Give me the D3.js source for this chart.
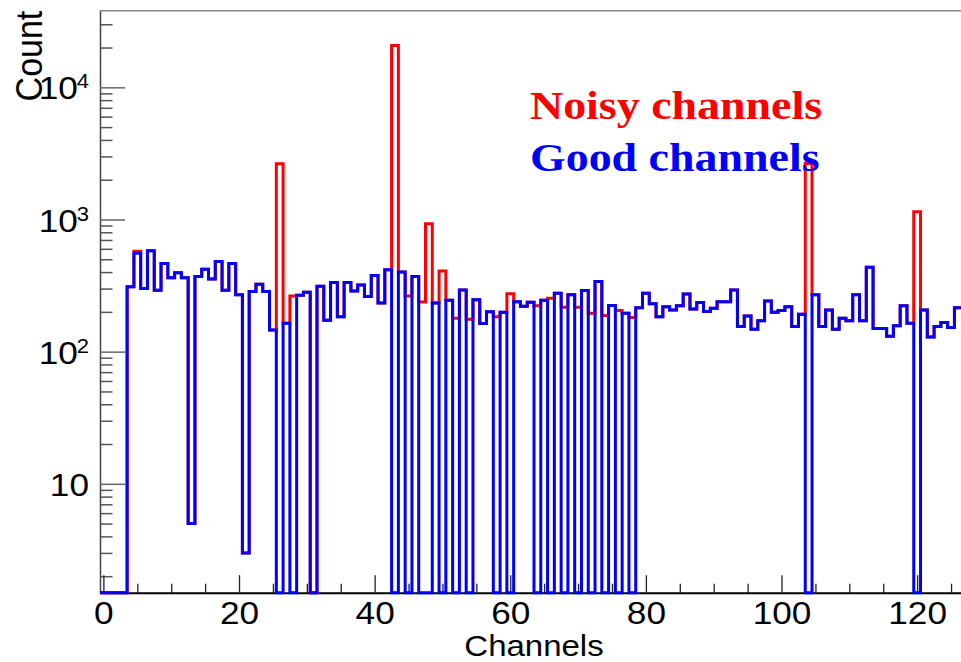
<!DOCTYPE html>
<html>
<head>
<meta charset="utf-8">
<script src="https://cdn.jsdelivr.net/npm/d3@7"></script>
<style>
  body { margin: 0; background: #fff; }
</style>
</head>
<body>
<div id="plot-container"></div>
<script>
// Bin contents per channel
const channels = d3.range(0, 127);

// good channels only (noisy ones removed -> 0)
const goodCounts = [
  0, 0, 0, 0, 310, 556, 300, 580, 292, 465,
  362, 395, 362, 5, 370, 421, 355, 480, 291, 465,
  269, 3, 285, 324, 285, 146, 0, 164, 0, 267,
  282, 0, 312, 173, 333, 184, 333, 288, 320, 261,
  377, 233, 416, 0, 401, 0, 370, 0, 0, 233,
  0, 245, 0, 293, 0, 247, 163, 200, 0, 199,
  0, 239, 221, 236, 0, 245, 0, 277, 0, 270,
  0, 290, 0, 339, 0, 223, 0, 195, 0, 215,
  277, 230, 184, 219, 207, 222, 273, 210, 235, 201,
  213, 239, 239, 293, 155, 186, 148, 171, 242, 199,
  205, 219, 155, 192, 0, 270, 155, 207, 148, 179,
  171, 270, 171, 436, 150, 150, 131, 157, 222, 164,
  0, 207, 129, 155, 166, 152, 215
];

// all channels, noisy ones included
const allCounts = [
  0, 0, 0, 0, 310, 575, 300, 580, 292, 465,
  362, 395, 362, 5, 370, 421, 355, 480, 291, 465,
  269, 3, 285, 324, 285, 146, 2640, 164, 264, 267,
  282, 0, 312, 173, 333, 184, 333, 288, 320, 261,
  377, 233, 416, 20700, 401, 264, 370, 237, 927, 233,
  408, 245, 179, 293, 176, 247, 163, 200, 184, 199,
  274, 239, 221, 236, 222, 245, 254, 277, 217, 270,
  217, 290, 195, 339, 188, 223, 205, 195, 181, 215,
  277, 230, 184, 219, 207, 222, 273, 210, 235, 201,
  213, 239, 239, 293, 155, 186, 148, 171, 242, 199,
  205, 219, 155, 192, 2650, 270, 155, 207, 148, 179,
  171, 270, 171, 436, 150, 150, 131, 157, 222, 164,
  1143, 207, 129, 155, 166, 152, 215
];

const xTicks = [0, 20, 40, 60, 80, 100, 120];
const yTicks = [10, 100, 1000, 10000];
const legendLabels = ["Noisy channels", "Good channels"];
const legendColors = ["#ff0000", "#0000ff"];

// Canvas and frame
const W = 961, H = 662;
const margin = { top: 10.7, left: 100, bottom: 69.3 };
const plotW = 868;
const plotH = H - margin.top - margin.bottom;
const yMin = 1.5, yMax = 38000;
const stretch = 1.1;
const sans = "'Liberation Sans', Arial, sans-serif";
const serif = "'Liberation Serif', 'Times New Roman', serif";

const svg = d3.select("#plot-container")
    .append("svg")
    .attr("width", W)
    .attr("height", H)
    .style("font-family", sans);

const x = d3.scaleLinear()
    .domain([-0.5, 127.5])
    .range([margin.left, margin.left + plotW]);

const y = d3.scaleLog()
    .domain([yMin, yMax])
    .range([margin.top + plotH, margin.top]);

// top frame line
svg.append("line")
    .attr("x1", margin.left).attr("x2", margin.left + plotW)
    .attr("y1", margin.top).attr("y2", margin.top)
    .attr("stroke", "#888").attr("stroke-width", 1.5);

// y axis: minor ticks
const yMinor = [];
[1, 10, 100, 1000, 10000].forEach(d => {
    for (let k = 2; k <= 9; k++) {
        if (k * d > yMin && k * d < yMax) yMinor.push(k * d);
    }
});

const yAxisMinor = svg.append("g")
    .attr("transform", `translate(${margin.left},0)`)
    .call(d3.axisLeft(y).tickValues(yMinor).tickSize(-12.5).tickFormat(() => ""));
yAxisMinor.select(".domain").remove();
yAxisMinor.selectAll("line").attr("stroke", "#555").attr("stroke-width", 1.5);

const yAxis = svg.append("g")
    .attr("transform", `translate(${margin.left},0)`)
    .call(d3.axisLeft(y).tickValues(yTicks).tickSize(-25).tickSizeOuter(0).tickFormat(() => ""));
yAxis.select(".domain").attr("stroke", "#444").attr("stroke-width", 1.5);
yAxis.selectAll("line").attr("stroke", "#666").attr("stroke-width", 1.5);
yAxis.selectAll(".tick text").remove();
yAxis.selectAll(".tick").each(function(d) {
    const e = Math.round(Math.log10(d));
    const t = d3.select(this).append("text")
        .attr("text-anchor", "end")
        .attr("fill", "#000")
        .attr("font-size", 32)
        .attr("dy", "0.36em")
        .attr("transform", `translate(-11,0) scale(${stretch},1)`);
    t.append("tspan").text("10");
    if (e > 1) t.append("tspan").attr("dy", "-0.55em").attr("dx", "-0.05em").attr("font-size", 20).text(e);
});

// x axis
const xAxisMinor = svg.append("g")
    .attr("transform", `translate(0,${margin.top + plotH})`)
    .call(d3.axisBottom(x).tickValues(d3.range(5, 128, 5).filter(v => v % 20 !== 0)).tickSize(-9).tickFormat(() => ""));
xAxisMinor.select(".domain").remove();
xAxisMinor.selectAll("line").attr("stroke", "#222").attr("stroke-width", 1.3);

const xAxis = svg.append("g")
    .attr("transform", `translate(0,${margin.top + plotH})`)
    .call(d3.axisBottom(x).tickValues(xTicks).tickSize(-17.5).tickSizeOuter(0).tickPadding(9));
xAxis.select(".domain").attr("stroke", "#000").attr("stroke-width", 2);
xAxis.selectAll("line").attr("stroke", "#222").attr("stroke-width", 1.3);
xAxis.selectAll("text")
    .attr("font-size", 32)
    .attr("fill", "#000")
    .style("font-family", sans)
    .attr("transform", `scale(${stretch},1)`);

// axis titles
svg.append("text")
    .attr("transform", `translate(534,656) scale(${stretch},1)`)
    .attr("text-anchor", "middle")
    .attr("font-size", 30)
    .text("Channels");

svg.append("text")
    .attr("transform", `translate(42,${margin.top}) rotate(-90) scale(1,${stretch})`)
    .attr("text-anchor", "end")
    .attr("font-size", 34)
    .text("Count");

// histograms as step outlines
function stepPoints(counts) {
    const pts = [];
    counts.forEach((c, i) => {
        pts.push([channels[i] - 0.5, c]);
        pts.push([channels[i] + 0.5, c]);
    });
    return pts;
}

const line = d3.line()
    .x(d => x(d[0]))
    .y(d => y(Math.max(d[1], yMin)));

svg.append("path")
    .attr("d", line(stepPoints(allCounts)))
    .attr("fill", "none")
    .attr("stroke", legendColors[0])
    .attr("stroke-width", 3)
    .attr("stroke-linejoin", "miter");

svg.append("path")
    .attr("d", line(stepPoints(goodCounts)))
    .attr("fill", "none")
    .attr("stroke", legendColors[1])
    .attr("stroke-width", 3)
    .attr("stroke-linejoin", "miter");

// legend text
legendLabels.forEach((label, i) => {
    svg.append("text")
        .attr("transform", `translate(530,${119 + i * 51.5}) scale(1.12,1)`)
        .style("font-family", serif)
        .attr("font-weight", "bold")
        .attr("font-size", 41)
        .attr("fill", legendColors[i])
        .text(label);
});
</script>
</body>
</html>
